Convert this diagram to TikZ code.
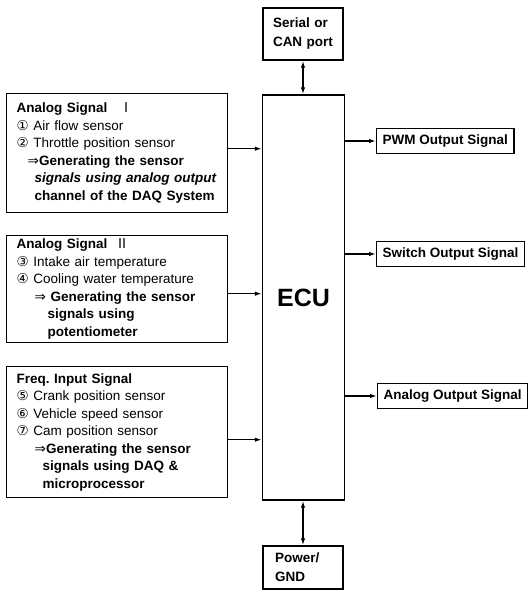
\documentclass[tikz,border=0pt]{standalone}
\usepackage{fontspec}
\setmainfont{Liberation Sans}
\newfontfamily\symf{DejaVu Sans}
\newfontfamily\romf{Noto Sans CJK JP}
\usetikzlibrary{arrows.meta}

\begin{document}
\begin{tikzpicture}[x=1pt, y=-1pt, every node/.style={font=\fontsize{13.5}{17.5}\selectfont}, >={Latex[length=7pt,width=4.5pt]}, line width=1.4pt,
	sig/.style={draw, anchor=north west, align=left, text width=201pt, inner xsep=10pt, inner ysep=0pt},
	outb/.style={draw, anchor=west, inner xsep=6pt, minimum height=25pt, font=\fontsize{13.5}{17.5}\selectfont\bfseries},
	endb/.style={draw, minimum width=80pt, align=left, font=\fontsize{13.5}{19}\selectfont\bfseries}]
	\useasboundingbox (0,0) rectangle (527,591);
	\node[draw, minimum width=82pt, minimum height=405pt, font=\fontsize{25}{30}\selectfont\bfseries] (ecu) at (303.5,297.5) {ECU};
	\node[endb, minimum height=52pt, text width=60pt] (port) at (303,34) {Serial or\\CAN port};
	\node[endb, minimum height=43pt, text width=56pt] (pwr) at (303,567.5) {Power/\\GND};
	\node[sig, minimum height=119pt] (sig1) at (6,93) {\textbf{Analog Signal}\hspace{12pt}{\romf Ⅰ}\\
		{\symf ①} Air flow sensor\\
		{\symf ②} Throttle position sensor\\
		\hspace*{11pt}{\symf ⇒}\textbf{Generating the sensor}\\
		\hspace*{18pt}\textbf{\itshape signals using analog output}\\
		\hspace*{18pt}\textbf{channel of the DAQ System}};
	\node[sig, minimum height=107pt] (sig2) at (6,235) {\textbf{Analog Signal}\hspace{8pt}{\romf Ⅱ}\\
		{\symf ③} Intake air temperature\\
		{\symf ④} Cooling water temperature\\
		\hspace*{18pt}{\symf ⇒} \textbf{Generating the sensor}\\
		\hspace*{31pt}\textbf{signals using}\\
		\hspace*{31pt}\textbf{potentiometer}};
	\node[sig, minimum height=131pt] (sig3) at (6,366) {\textbf{Freq.\ Input Signal}\\
		{\symf ⑤} Crank position sensor\\
		{\symf ⑥} Vehicle speed sensor\\
		{\symf ⑦} Cam position sensor\\
		\hspace*{18pt}{\symf ⇒}\textbf{Generating the sensor}\\
		\hspace*{26pt}\textbf{signals using DAQ \&}\\
		\hspace*{26pt}\textbf{microprocessor}};
	\node[outb] (pwm) at (376,141) {PWM Output Signal};
	\node[outb] (sw) at (376,254) {Switch Output Signal};
	\node[outb] (aout) at (377,396) {Analog Output Signal};
	\draw[->] ([yshift=4.5pt]sig1.east) -- ([yshift=4.5pt]sig1.east -| ecu.west);
	\draw[->] ([yshift=-4.5pt]sig2.east) -- ([yshift=-4.5pt]sig2.east -| ecu.west);
	\draw[->] ([yshift=-7.5pt]sig3.east) -- ([yshift=-7.5pt]sig3.east -| ecu.west);
	\draw[->] (ecu.east |- pwm.west) -- (pwm.west);
	\draw[->] (ecu.east |- sw.west) -- (sw.west);
	\draw[->] (ecu.east |- aout.west) -- (aout.west);
	\draw[<->] (port.south) -- (port.south |- ecu.north);
	\draw[<->] (ecu.south -| pwr.north) -- (pwr.north);
\end{tikzpicture}
\end{document}
